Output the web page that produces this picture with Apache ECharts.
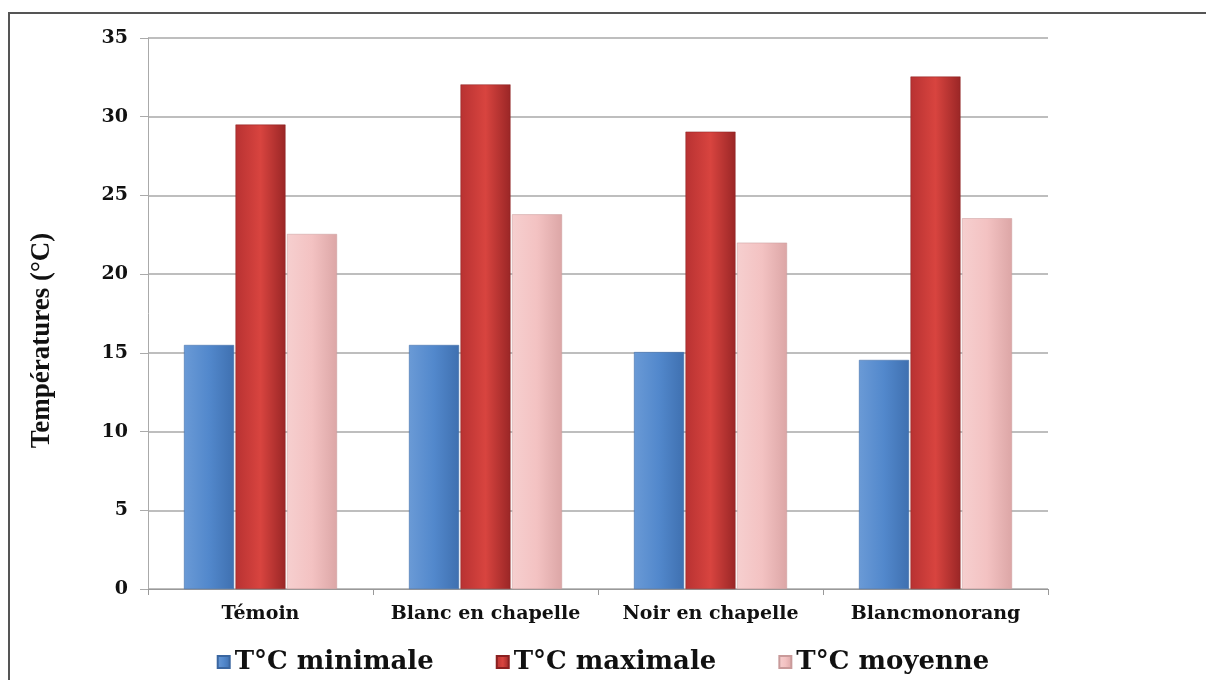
<!DOCTYPE html>
<html><head><meta charset="utf-8">
<script src="https://cdn.jsdelivr.net/npm/echarts@6/dist/echarts.min.js"></script>
<style>html,body{margin:0;padding:0;background:#fff}#c{width:1206px;height:680px}</style>
</head><body><div id="c"></div>
<script>
const categories = ['Témoin', 'Blanc en chapelle', 'Noir en chapelle', 'Blancmonorang'];
const tMin = [15.5, 15.5, 15.05, 14.55];
const tMax = [29.5, 32.05, 29.05, 32.55];
const tMoy = [22.55, 23.8, 22.0, 23.55];
const seriesNames = ['T°C minimale', 'T°C maximale', 'T°C moyenne'];

function grad(light, mid, dark) {
  return new echarts.graphic.LinearGradient(0, 0, 1, 0, [
    {offset: 0, color: light}, {offset: 0.5, color: mid}, {offset: 1, color: dark}
  ]);
}
const wide = '"DejaVu Serif", "Liberation Serif", serif';
const narrow = '"Liberation Serif", "DejaVu Serif", serif';
const chart = echarts.init(document.getElementById('c'));
chart.setOption({
  animation: false,
  backgroundColor: '#fff',
  graphic: [{
    type: 'rect', shape: {x: 9, y: 13, width: 1210, height: 700},
    style: {fill: 'none', stroke: '#555', lineWidth: 2}, silent: true
  }],
  grid: {left: 148, right: 158, top: 38, bottom: 91, containLabel: false},
  legend: {
    bottom: 0, left: 'center', itemGap: 62, itemWidth: 12, itemHeight: 12,
    icon: 'rect',
    textStyle: {fontFamily: wide, fontWeight: 'bold', fontSize: 26, color: '#111'},
    data: seriesNames
  },
  xAxis: {
    type: 'category', data: categories,
    axisLine: {lineStyle: {color: '#999'}},
    axisTick: {show: true, interval: 0, length: 6, lineStyle: {color: '#999'}},
    axisLabel: {interval: 0, hideOverlap: false, fontFamily: wide, fontWeight: 'bold', fontSize: 19, color: '#111', margin: 16}
  },
  yAxis: {
    type: 'value', min: 0, max: 35, interval: 5,
    name: 'Températures (°C)', nameLocation: 'middle', nameGap: 92, nameRotate: 90,
    nameTextStyle: {fontFamily: narrow, fontWeight: 'bold', fontSize: 27, color: '#111', padding: [0, 54, 0, 0]},
    axisLine: {show: true, lineStyle: {color: '#aaa'}},
    axisTick: {show: true, length: 8, lineStyle: {color: '#aaa'}},
    axisLabel: {fontFamily: wide, fontWeight: 'bold', fontSize: 19, color: '#111', margin: 20},
    splitLine: {show: true, lineStyle: {color: '#a8a8a8', width: 1.5}}
  },
  series: [
    {name: seriesNames[0], type: 'bar', data: tMin, barWidth: 50, barGap: '3%',
     itemStyle: {color: grad('#6a9ad6', '#5288cc', '#3f70b0'), borderColor: '#3a66a0', borderWidth: 0.5}},
    {name: seriesNames[1], type: 'bar', data: tMax, barWidth: 50, barGap: '3%',
     itemStyle: {color: grad('#b83232', '#d8443f', '#9a2626'), borderColor: '#8a2020', borderWidth: 0.5}},
    {name: seriesNames[2], type: 'bar', data: tMoy, barWidth: 50, barGap: '3%',
     itemStyle: {color: grad('#f6cfcf', '#f3c2c2', '#dca6a6'), borderColor: '#c99a9a', borderWidth: 0.5}}
  ],
  color: ['#5288cc', '#c8403c', '#f2c2c2']
});
</script></body></html>
